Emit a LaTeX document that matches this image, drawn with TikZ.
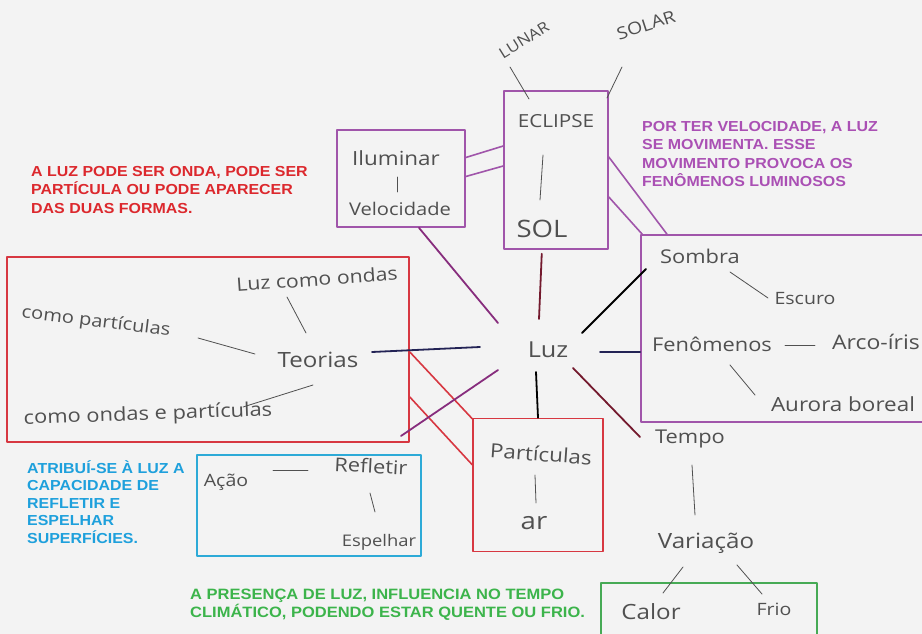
\documentclass[tikz,border=0pt]{standalone}
\usepackage{fontspec}
\setmainfont{Liberation Sans}[FakeStretch=1.1]
\newfontfamily\hand{Open Sans}[FakeStretch=1.15]
\definecolor{paper}{RGB}{243,243,243}
\definecolor{pencil}{RGB}{80,80,80}
\definecolor{boxpur}{RGB}{160,85,170}
\definecolor{boxred}{RGB}{215,55,65}
\definecolor{boxblue}{RGB}{45,170,215}
\definecolor{boxgreen}{RGB}{70,170,85}
\definecolor{txtred}{RGB}{220,40,45}
\definecolor{txtpur}{RGB}{170,80,180}
\definecolor{txtblue}{RGB}{30,160,220}
\definecolor{txtgreen}{RGB}{60,180,75}
\definecolor{inkpur}{RGB}{135,45,125}
\definecolor{inkred}{RGB}{115,25,45}
\definecolor{inknavy}{RGB}{35,35,85}
\tikzset{
  hw/.style={text=pencil,inner sep=1pt,font=\hand\fontsize{#1}{#1}\selectfont},
  pen/.style={draw=pencil,line width=0.8pt},
  spoke/.style={line width=1.8pt},
  pbox/.style={draw=boxpur,line width=1.6pt},
  rbox/.style={draw=boxred,line width=1.6pt},
  bbox/.style={draw=boxblue,line width=1.6pt},
  gbox/.style={draw=boxgreen,line width=1.6pt},
  note/.style 2 args={anchor=north west,inner sep=0pt,align=left,font=\bfseries\fontsize{#1}{#2}\selectfont}
}
\begin{document}
\begin{tikzpicture}[x=1pt,y=-1pt,line cap=round,line join=round]
\useasboundingbox (0,0) rectangle (922,634);
\fill[paper] (0,0) rectangle (922,634);
\clip (0,0) rectangle (922,634);

% caixas
\node[pbox,minimum width=104,minimum height=158] (eclbox) at (556,170) {};
\node[pbox,minimum width=128,minimum height=97] (ilbox) at (401,178.5) {};
\node[pbox,minimum width=300,minimum height=187] (sombox) at (791,328.5) {};
\node[rbox,minimum width=402,minimum height=185] (teobox) at (208,349.5) {};
\node[rbox,minimum width=130,minimum height=133] (parbox) at (538,485) {};
\node[bbox,minimum width=224,minimum height=101] (acbox) at (309,505.5) {};
\node[gbox,minimum width=216,minimum height=80] (clbox) at (709,623) {};

% textos
\node[note={14.5}{18.5},text=txtred] (nred) at (31,166) {A LUZ PODE SER ONDA, PODE SER\\PARTÍCULA OU PODE APARECER\\DAS DUAS FORMAS.};
\node[note={14.5}{18.5},text=txtpur] (npur) at (642,121) {POR TER VELOCIDADE, A LUZ\\SE MOVIMENTA. ESSE\\MOVIMENTO PROVOCA OS\\FENÔMENOS LUMINOSOS};
\node[note={14.5}{17.5},text=txtblue] (nblue) at (27,460) {ATRIBUÍ-SE À LUZ A\\CAPACIDADE DE\\REFLETIR E\\ESPELHAR\\SUPERFÍCIES.};
\node[note={15}{16},text=txtgreen] (ngreen) at (190,589) {A PRESENÇA DE LUZ, INFLUENCIA NO TEMPO\\CLIMÁTICO, PODENDO ESTAR QUENTE OU FRIO.};

% palavras
\node[hw=22] (luz) at (548,350) {Luz};
\node[hw=15,rotate=32] (lunar) at (524,40) {LUNAR};
\node[hw=17,rotate=18] (solar) at (646,25) {SOLAR};
\node[hw=18] (ecl) at (556,121) {ECLIPSE};
\node[hw=24] (sol) at (542,229) {SOL};
\node[hw=19.5] (ilum) at (396,158) {Iluminar};
\node[hw=17.5] (velo) at (400,209) {Velocidade};
\node[hw=19] (somb) at (700,256) {Sombra};
\node[hw=17] (escu) at (805,299) {Escuro};
\node[hw=19] (feno) at (712,344) {Fenômenos};
\node[hw=20] (arco) at (876,342) {Arco-íris};
\node[hw=19.5] (auro) at (843,404) {Aurora boreal};
\node[hw=18.5,rotate=4] (lcon) at (317,279) {Luz como ondas};
\node[hw=17.5,rotate=-7] (cpar) at (96,322) {como partículas};
\node[hw=21] (teor) at (318,360) {Teorias};
\node[hw=19,rotate=2] (cope) at (148,415) {como ondas e partículas};
\node[hw=19.5,rotate=-4] (part) at (541,454) {Partículas};
\node[hw=24] (ar) at (534,523) {ar};
\node[hw=17] (acao) at (226,482) {Ação};
\node[hw=19,rotate=-3] (refl) at (371,466) {Refletir};
\node[hw=16] (espe) at (379,542) {Espelhar};
\node[hw=19] (temp) at (690,439) {Tempo};
\node[hw=21] (vari) at (706,543) {Variação};
\node[hw=21] (calo) at (651,612) {Calor};
\node[hw=17] (frio) at (774,609) {Frio};

% tracos a lapis
\draw[pen] (lunar.center) ++(-14,27) -- ++(19,32);
\draw[pen] (solar.center) ++(-24,42) -- ++(-15,31);
\draw[pen] (ecl.center) ++(-13,34) -- ++(-3,45);
\draw[pen] (ilum.center) ++(1,19) -- ++(0,15);
\draw[pen] (somb.center) ++(30,16) -- ++(38,26);
\draw[pen] (feno.center) ++(73,1) -- ++(30,0);
\draw[pen] (feno.center) ++(18,21) -- ++(25,30);
\draw[pen] (lcon.center) ++(-30,18) -- ++(19,36);
\draw[pen] (cpar.center) ++(102,16) -- ++(57,16);
\draw[pen] (teor.center) ++(-5,25) -- ++(-70,22);
\draw[pen] (part.center) ++(-6,21) -- ++(1,28);
\draw[pen] (acao.center) ++(47,-12) -- ++(35,0);
\draw[pen] (refl.center) ++(-1,27) -- ++(5,19);
\draw[pen] (temp.center) ++(2,26) -- ++(3,50);
\draw[pen] (vari.center) ++(-23,24) -- ++(-20,26);
\draw[pen] (vari.center) ++(31,22) -- ++(25,29);

% ligacoes entre caixas
\draw[pbox] ([yshift=21pt]ilbox.east) -- ([yshift=24pt]eclbox.west);
\draw[pbox] ([yshift=2pt]ilbox.east) -- ([yshift=4pt]eclbox.west);
\draw[pbox] ([yshift=13pt]eclbox.east) -- (sombox.north west -| 667,0);
\draw[pbox] ([yshift=-27pt]eclbox.east) -- ([xshift=2pt]sombox.north west);
\draw[rbox] ([yshift=-2.5pt]teobox.east) -- ([yshift=-1pt]parbox.north west);
\draw[rbox] ([yshift=-47.5pt]teobox.east) -- ([yshift=-47pt]parbox.north west);

% raios a partir de Luz
\coordinate (r1) at (498,323);
\coordinate (r2) at (539,319);
\coordinate (r3) at (582,333);
\coordinate (r4) at (600,352);
\coordinate (r5) at (573,368);
\coordinate (r6) at (536,372);
\coordinate (r7) at (480,347);
\coordinate (r8) at (498,370);
\coordinate (e3) at (646,269);
\coordinate (e5) at (640,437);
\coordinate (e7) at (372,352);
\coordinate (e8) at (401,436);
\draw[spoke,draw=inkpur] (r1) -- (ilbox.-70);
\draw[spoke,draw=inkred,shorten >=4pt] (r2) -- (eclbox.-100);
\draw[spoke,draw=black] (r3) -- (e3);
\draw[spoke,draw=inknavy] (r4) -- (sombox.west |- r4);
\draw[spoke,draw=inkred] (r5) -- (e5);
\draw[spoke,draw=black] (r6) -- (parbox.north);
\draw[spoke,draw=inknavy] (r7) -- (e7);
\draw[spoke,draw=inkpur] (r8) -- (e8);
\end{tikzpicture}
\end{document}
